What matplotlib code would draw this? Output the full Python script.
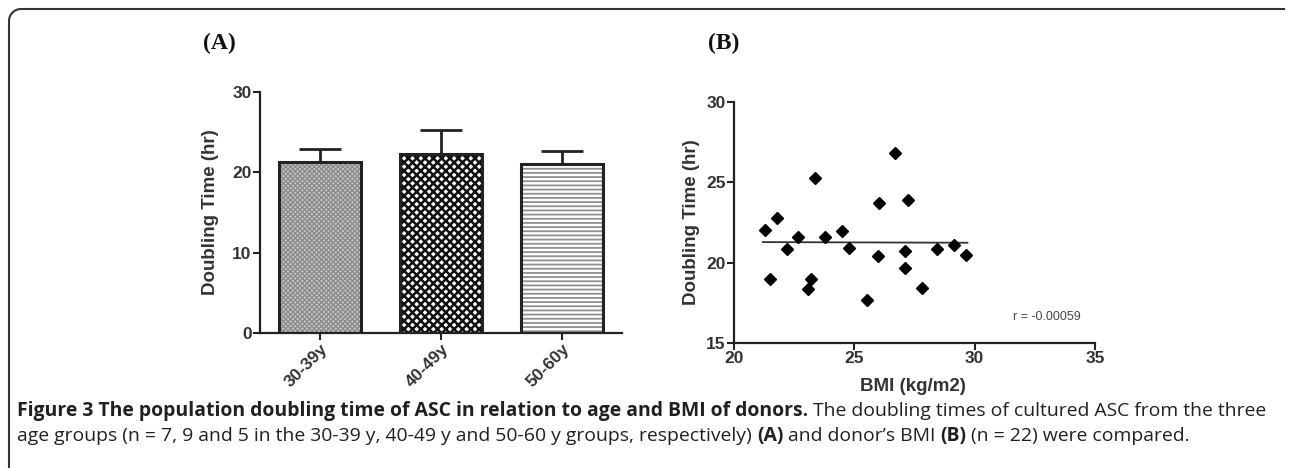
import numpy as np
import matplotlib
matplotlib.use("Agg")
import matplotlib.pyplot as plt
from matplotlib import font_manager
from matplotlib.lines import Line2D

# ---------------- data ----------------
groups = ["30-39y", "40-49y", "50-60y"]
means = [21.3, 22.3, 21.0]
errs = [1.6, 3.0, 1.7]

bmi = [21.27, 21.50, 21.79, 22.20, 22.67, 23.06, 23.20, 23.38, 23.78, 24.50, 24.79,
       25.51, 26.00, 26.02, 26.70, 27.12, 27.12, 27.23, 27.80, 28.43, 29.15, 29.64]
dtime = [22.02, 19.00, 22.77, 20.85, 21.60, 18.37, 19.00, 25.27, 21.60, 21.96, 20.90,
         17.69, 20.40, 23.70, 26.85, 20.73, 19.65, 23.90, 18.44, 20.87, 21.12, 20.46]
fit_x = [21.2, 29.7]
fit_y = [21.28, 21.24]
r_text = "r = -0.00059"

caption_line1 = [("Figure 3 The population doubling time of ASC in relation to age and BMI of donors.", "bold"),
                 (" The doubling times of cultured ASC from the three", "normal")]
caption_line2 = [("age groups (n = 7, 9 and 5 in the 30-39 y, 40-49 y and 50-60 y groups, respectively) ", "normal"),
                 ("(A)", "bold"), (" and donor\u2019s BMI ", "normal"), ("(B)", "bold"),
                 (" (n = 22) were compared.", "normal")]

# ---------------- style ----------------
W, H = 1290, 468
plt.rcParams["font.family"] = ["Liberation Sans", "DejaVu Sans"]
plt.rcParams["hatch.linewidth"] = 1.3
dark = "#222222"
txtcol = "#333333"
tick_fs = 12.5
lab_fs = 13.5

fig = plt.figure(figsize=(W / 100, H / 100), dpi=100)

def fx(px):
    return px / W

def fy(py):
    return 1 - py / H

# ---------------- panel A ----------------
axA = fig.add_axes([fx(260), fy(333), fx(622) - fx(260), fy(92) - fy(333)])
x = np.arange(len(groups))
bw = 0.68
face = ["#c8c8c8", "white", "white"]
hatch = ["xxxxxxx", "xxxx", "----"]
hcol = ["#8c8c8c", "#111111", "#909090"]
hlw = [1.0, 1.8, 1.3]
for i in range(len(groups)):
    b = axA.bar(x[i], means[i], width=bw, color=face[i], hatch=hatch[i], edgecolor=hcol[i],
                linewidth=0, zorder=2)
    for p in b.patches:
        if hasattr(p, "set_hatch_linewidth"):
            p.set_hatch_linewidth(hlw[i])
    axA.bar(x[i], means[i], width=bw, fill=False, edgecolor=dark, linewidth=2.2, zorder=3)
axA.errorbar(x, means, yerr=[np.zeros(len(errs)), errs], fmt="none", ecolor=dark,
             elinewidth=2.0, capsize=15, capthick=2.0, zorder=1)
axA.set_xlim(-0.5, 2.5)
axA.set_ylim(0, 30)
axA.set_yticks([0, 10, 20, 30])
axA.set_xticks(x)
axA.set_xticklabels(groups, rotation=45, ha="right", rotation_mode="anchor",
                    fontsize=tick_fs, fontweight="bold", color=txtcol)
for lab in axA.get_yticklabels():
    lab.set_fontweight("bold"); lab.set_fontsize(tick_fs); lab.set_color(txtcol)
axA.set_ylabel("Doubling Time (hr)", fontsize=lab_fs, fontweight="bold", color=txtcol)
axA.yaxis.set_label_coords(-0.113, 0.5)

# ---------------- panel B ----------------
axB = fig.add_axes([fx(734), fy(343), fx(1095) - fx(734), fy(102) - fy(343)])
axB.plot(bmi, dtime, linestyle="none", marker="D", markersize=5.8, color="black", zorder=3)
axB.plot(fit_x, fit_y, color="#333333", linewidth=1.3, zorder=2)
axB.set_xlim(20, 35)
axB.set_ylim(15, 30)
axB.set_xticks([20, 25, 30, 35])
axB.set_yticks([15, 20, 25, 30])
for lab in axB.get_yticklabels() + axB.get_xticklabels():
    lab.set_fontweight("bold"); lab.set_fontsize(tick_fs); lab.set_color(txtcol)
axB.set_ylabel("Doubling Time (hr)", fontsize=lab_fs, fontweight="bold", color=txtcol)
axB.yaxis.set_label_coords(-0.095, 0.5)
axB.set_xlabel("BMI (kg/m2)", fontsize=lab_fs, fontweight="bold", color=txtcol)
axB.xaxis.set_label_coords(0.496, -0.145)
axB.text(31.6, 16.6, r_text, fontsize=9, color="#444444", ha="left", va="center")

for ax in (axA, axB):
    for s in ("top", "right"):
        ax.spines[s].set_visible(False)
    for s in ("left", "bottom"):
        ax.spines[s].set_linewidth(1.6)
        ax.spines[s].set_color(dark)
    ax.tick_params(direction="out", length=5, width=1.5, color=dark, pad=1.0)
    ax.patch.set_alpha(0)

# panel labels
fig.text(fx(219), fy(43), "(A)", family="Liberation Serif", fontweight="bold",
         fontsize=17, ha="center", va="center", color="#111111")
fig.text(fx(724), fy(43), "(B)", family="Liberation Serif", fontweight="bold",
         fontsize=17, ha="center", va="center", color="#111111")

# frame (top line with rounded top-left corner, left edge)
rad = 12
th = np.linspace(np.pi, np.pi / 2, 20)
cx, cy = 9 + rad, 9 + rad
px = np.concatenate([[9], cx + rad * np.cos(th), [1284]])
py = np.concatenate([[470], cy - rad * np.sin(th), [9]])
fig.add_artist(Line2D([fx(v) for v in px], [fy(v) for v in py], transform=fig.transFigure,
                      color="#333333", linewidth=1.5))

# ---------------- caption ----------------
avail = [f.name for f in font_manager.fontManager.ttflist]
cap_family = "Liberation Sans Narrow" if "Liberation Sans Narrow" in avail else "Open Sans"
renderer = fig.canvas.get_renderer()

def draw_runs(runs, x0, y0, size, draw=True):
    xpos = x0
    arts = []
    for txt, wt in runs:
        t = fig.text(fx(xpos), fy(y0), txt, family=cap_family, fontweight=wt, fontsize=size,
                     ha="left", va="center", color="#231f20")
        bb = t.get_window_extent(renderer=renderer)
        xpos += bb.width
        arts.append(t)
    if not draw:
        for a in arts:
            a.remove()
    return xpos

size = 11.0
end = draw_runs(caption_line1, 17, 411, size, draw=False)
size = size * (1268 - 17) / (end - 17)
draw_runs(caption_line1, 17, 411, size)
draw_runs(caption_line2, 17, 436, size)

fig.savefig("out.png", dpi=100)
